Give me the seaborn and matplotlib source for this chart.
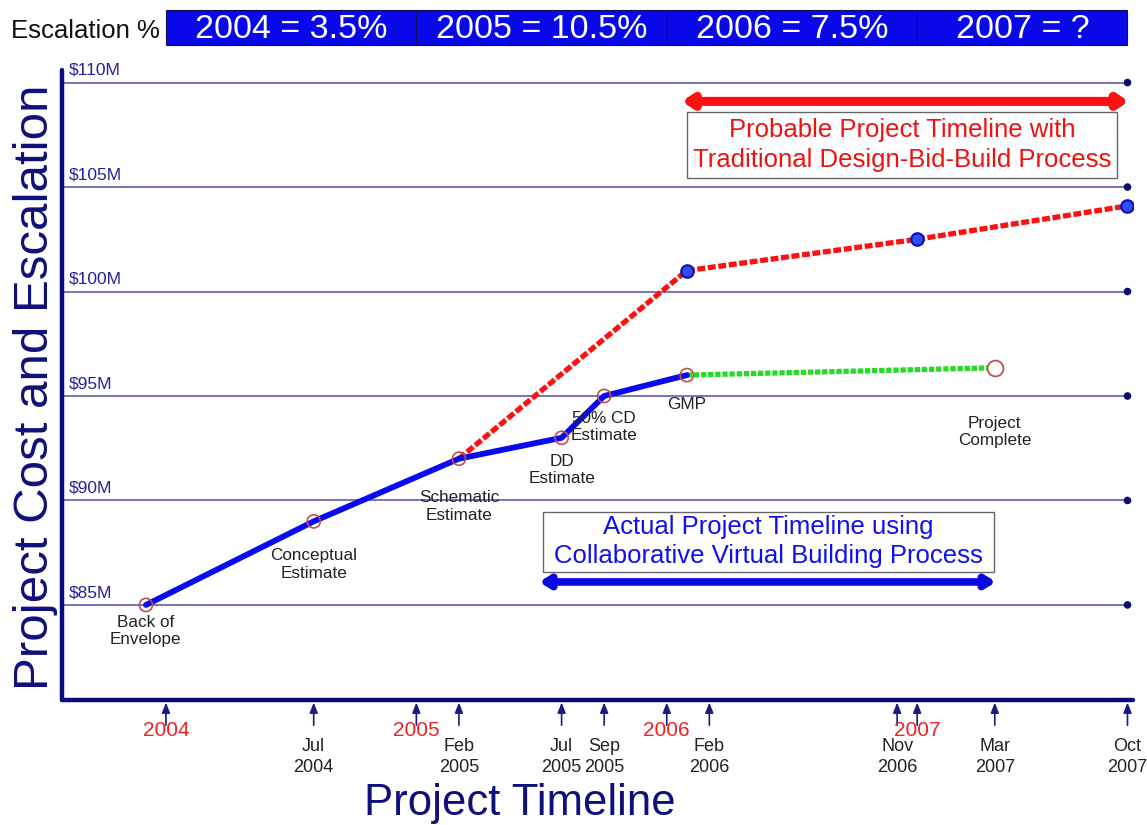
import pandas as pd
import seaborn as sns
import matplotlib.pyplot as plt
from matplotlib.patches import Rectangle

# values (x = position on timeline in decimal years, y = $M)
actual_x = [2003.92, 2004.59, 2005.17, 2005.58, 2005.75, 2006.08]
actual_y = [85, 89, 92, 93, 95, 96]
actual_labels = ["Back of\nEnvelope", "Conceptual\nEstimate", "Schematic\nEstimate",
                 "DD\nEstimate", "50% CD\nEstimate", "GMP"]
label_offsets = [-26, -43, -48, -32, -31, -29]

gmp_x = [2006.08, 2007.31]
gmp_y = [96, 96.35]

trad_x = [2005.17, 2006.08, 2007.0, 2007.84]
trad_y = [92, 101, 102.5, 104.1]

cost_levels = [85, 90, 95, 100, 105, 110]
cost_labels = ["$85M", "$90M", "$95M", "$100M", "$105M", "$110M"]

tick_x = [2004.0, 2004.59, 2005.0, 2005.17, 2005.58, 2005.75, 2006.0, 2006.17,
          2006.92, 2007.0, 2007.31, 2007.84]
tick_labels = ["2004", "Jul\n2004", "2005", "Feb\n2005", "Jul\n2005", "Sep\n2005",
               "2006", "Feb\n2006", "Nov\n2006", "2007", "Mar\n2007", "Oct\n2007"]

esc_years = [2004, 2005, 2006, 2007]
esc_labels = ["2004 = 3.5%", "2005 = 10.5%", "2006 = 7.5%", "2007 = ?"]
esc_end = 2007.84

sns.set_theme(style="white")
plt.rcParams['font.family'] = ['Liberation Sans', 'DejaVu Sans']

navy = '#10107a'
fig = plt.figure(figsize=(11.47, 8.25), dpi=100)
ax = fig.add_axes([0.0541, 0.1515, 0.9337, 0.7636])
ax.set_xlim(2003.585, 2007.862)
ax.set_ylim(80.45, 110.6)

# grid lines with dot at right end
ax.hlines(cost_levels, 2003.585, esc_end, color='#6b6bb0', lw=1.3, zorder=1)
sns.scatterplot(x=[esc_end] * len(cost_levels), y=cost_levels, color='#0b0b70',
                s=30, edgecolor='none', ax=ax, zorder=2)
for lev, lab in zip(cost_levels, cost_labels):
    ax.text(0.006, lev + 0.22, lab, transform=ax.get_yaxis_transform(),
            ha='left', va='bottom', fontsize=12.5, color='#22229a')

# lines
trad = pd.DataFrame({'x': trad_x, 'y': trad_y})
sns.lineplot(data=trad, x='x', y='y', sort=False, color='#ff1010', lw=3.8,
             linestyle=(0, (1.5, 0.5)), ax=ax, zorder=3)
act = pd.DataFrame({'x': actual_x, 'y': actual_y})
sns.lineplot(data=act, x='x', y='y', sort=False, color='#0a0af0', lw=4.2, ax=ax, zorder=4)
gmp = pd.DataFrame({'x': gmp_x, 'y': gmp_y})
sns.lineplot(data=gmp, x='x', y='y', sort=False, color='#22dd22', lw=3.8,
             linestyle=(0, (1, 0.35)), ax=ax, zorder=3)

# markers
sns.scatterplot(data=act, x='x', y='y', s=90, facecolor='none', edgecolor='#c0504d',
                linewidth=1.2, ax=ax, zorder=5)
sns.scatterplot(x=gmp_x[1:], y=gmp_y[1:], s=130, color='white', edgecolor='#c0504d',
                linewidth=1.3, ax=ax, zorder=5)
sns.scatterplot(x=trad_x[1:], y=trad_y[1:], s=80, color='#3050f0', edgecolor='#1010c0',
                linewidth=1.6, ax=ax, zorder=5)

for x, y, lab, dy in zip(actual_x, actual_y, actual_labels, label_offsets):
    ax.annotate(lab, (x, y), xytext=(0, dy), textcoords='offset pixels',
                ha='center', va='center', fontsize=12.3, color='#222222',
                linespacing=1.2, zorder=6)
ax.annotate("Project\nComplete", (gmp_x[1], gmp_y[1]), xytext=(0, -64),
            textcoords='offset pixels', ha='center', va='center', fontsize=12.3,
            color='#222222', linespacing=1.2)

# timeline boxes with arrows
ax.annotate('', xy=(2006.06, 109.1), xytext=(2007.845, 109.1),
            arrowprops=dict(arrowstyle='<|-|>,head_length=0.45,head_width=0.3',
                            color='#ff1010', lw=6.5, shrinkA=0, shrinkB=0))
ax.add_patch(Rectangle((2006.08, 105.44), 1.72, 3.16, facecolor='white',
                       edgecolor='#666666', lw=1, zorder=2))
ax.text(2006.94, 107.02, "Probable Project Timeline with\nTraditional Design-Bid-Build Process",
        ha='center', va='center', fontsize=18.5, color='#ee1111', linespacing=1.3, zorder=3)

ax.annotate('', xy=(2005.49, 86.1), xytext=(2007.315, 86.1),
            arrowprops=dict(arrowstyle='<|-|>,head_length=0.45,head_width=0.28',
                            color='#0a0ae0', lw=5.5, shrinkA=0, shrinkB=0))
ax.add_patch(Rectangle((2005.506, 86.58), 1.80, 2.87, facecolor='white',
                       edgecolor='#666666', lw=1, zorder=2))
ax.text(2006.405, 88.03, "Actual Project Timeline using\nCollaborative Virtual Building Process",
        ha='center', va='center', fontsize=18.5, color='#1010ee', linespacing=1.3, zorder=3)

# x ticks as arrows below the axis
ax.set_xticks([])
ax.set_yticks([])
for x, lab in zip(tick_x, tick_labels):
    ax.annotate('', xy=(x, -0.004), xycoords=('data', 'axes fraction'),
                xytext=(x, -0.04), textcoords=('data', 'axes fraction'),
                arrowprops=dict(arrowstyle='-|>,head_length=0.5,head_width=0.2',
                                color='#1a1a80', lw=1.2, shrinkA=0, shrinkB=0),
                annotation_clip=False)
    if '\n' in lab:
        ax.text(x, -0.091, lab, transform=ax.get_xaxis_transform(), ha='center',
                va='center', fontsize=13, color='#222222', linespacing=1.3)
    else:
        ax.text(x, -0.048, lab, transform=ax.get_xaxis_transform(), ha='center',
                va='center', fontsize=15, color='#ee2222')

# escalation banner
edges = esc_years + [esc_end]
for i, lab in enumerate(esc_labels):
    ax.add_patch(Rectangle((edges[i], 1.0397), edges[i + 1] - edges[i], 0.0555,
                           transform=ax.get_xaxis_transform(), clip_on=False,
                           facecolor='#0808e8', edgecolor='#101050', lw=0.8))
    ax.text((edges[i] + edges[i + 1]) / 2, 1.064, lab, transform=ax.get_xaxis_transform(),
            ha='center', va='center', fontsize=24.5, color='white')
ax.text(2003.975, 1.062, "Escalation %", transform=ax.get_xaxis_transform(),
        ha='right', va='center', fontsize=18.5, color='#111111')

for side in ['top', 'right']:
    ax.spines[side].set_visible(False)
for side in ['left', 'bottom']:
    ax.spines[side].set_color('#0b0b80')
    ax.spines[side].set_linewidth(3.2)
    ax.spines[side].set_capstyle('round')

ax.set_xlabel('')
ax.set_ylabel('')
fig.text(36 / 1147, 1 - 387 / 825, "Project Cost and Escalation", rotation=90,
         ha='center', va='center', fontsize=35.5, color=navy)
fig.text(520 / 1147, 1 - 803 / 825, "Project Timeline", ha='center', va='center',
         fontsize=31.5, color=navy)

plt.savefig("out.png", dpi=100)
